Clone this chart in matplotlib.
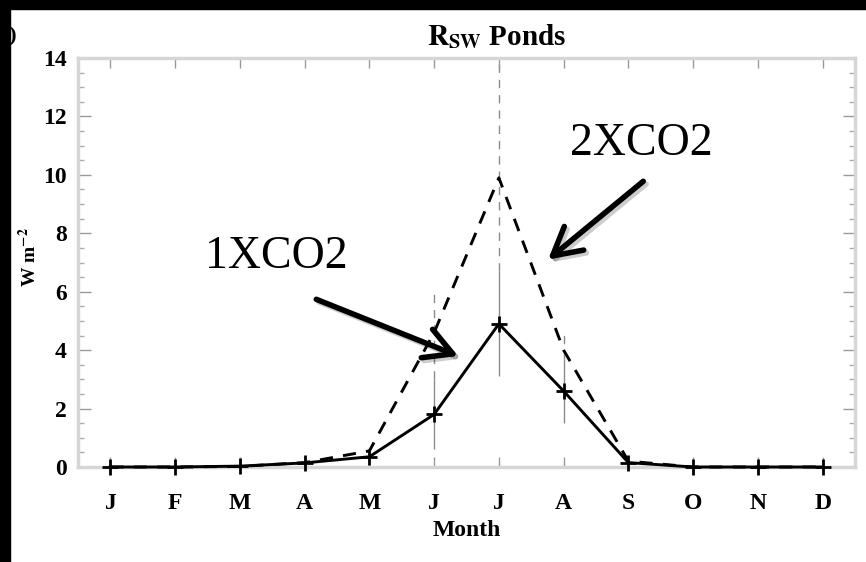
import numpy as np
import matplotlib
matplotlib.use("Agg")
import matplotlib.pyplot as plt
from matplotlib.patches import Rectangle
from matplotlib.ticker import MultipleLocator
import matplotlib.patheffects as pe

plt.rcParams['font.family'] = ['Liberation Serif', 'DejaVu Serif']
plt.rcParams['mathtext.fontset'] = 'stix'

# monthly pond shortwave (W m-2)
months = np.arange(1, 13)
month_labels = ['J', 'F', 'M', 'A', 'M', 'J', 'J', 'A', 'S', 'O', 'N', 'D']
rsw_1x = [0.0, 0.0, 0.03, 0.14, 0.35, 1.8, 4.9, 2.6, 0.15, 0.0, 0.0, 0.0]
rsw_2x = [0.0, 0.0, 0.02, 0.15, 0.55, 4.6, 9.9, 4.0, 0.2, 0.0, 0.0, 0.0]

# spread bars (June, July, August)
spread_months = [6, 7, 8]
spread_1x_lo = [0.6, 3.1, 1.5]
spread_1x_hi = [3.0, 6.7, 3.7]
spread_2x_lo = [3.0, 6.7, 3.7]
spread_2x_hi = [6.0, 14.5, 4.7]

fig = plt.figure(figsize=(8.66, 5.62), dpi=100)
ax = fig.add_axes([78/866, 1 - 467/562, 777/866, 409/562])

ax.vlines(spread_months, spread_1x_lo, spread_1x_hi, color='#8a8a8a', lw=1.0, zorder=1)
ax.vlines(spread_months, spread_2x_lo, spread_2x_hi, color='#8a8a8a', lw=1.0,
          linestyles=(0, (6, 5)), zorder=1)

ax.plot(months, rsw_2x, color='black', lw=2.1, dashes=(4.5, 3.5), zorder=3, clip_on=False)
ax.plot(months, rsw_1x, color='black', lw=2.1, marker='+', ms=11, mew=2, zorder=4,
        clip_on=False)

ax.set_xlim(0.5, 12.5)
ax.set_ylim(0, 14)
ax.set_xticks(months)
ax.set_xticklabels(month_labels, fontweight='bold', fontsize=17)
ax.yaxis.set_major_locator(MultipleLocator(2))
ax.yaxis.set_minor_locator(MultipleLocator(0.5))
for lab in ax.get_yticklabels():
    lab.set_fontweight('bold')
    lab.set_fontsize(17)

ax.tick_params(axis='x', which='major', direction='in', top=True, length=7,
               width=1, color='#999999', pad=19)
ax.tick_params(axis='y', which='major', direction='in', right=True, length=9,
               width=1, color='#999999', pad=8)
ax.tick_params(axis='y', which='minor', direction='in', right=True, length=4,
               width=1, color='#aaaaaa')
for s in ax.spines.values():
    s.set_color('#d6d6d6')
    s.set_linewidth(2.5)

ax.set_xlabel('Month', fontweight='bold', fontsize=17)
ax.xaxis.set_label_coords(0.5, -0.13)
fig.text(29/866, 1 - 257/562, r'W m$^{\mathbf{-2}}$', fontweight='bold', fontsize=14,
         rotation=90, ha='center', va='center')

fig.text(497/866, 1 - 37/562, r'$\mathbf{R}_{\mathbf{SW}}$ Ponds', fontweight='bold',
         fontsize=21, ha='center', va='center')
fig.text(17/866, 1 - 36/562, 'a)', fontweight='bold', fontsize=16, ha='right', va='center')

# callouts
ax.text(3.56, 7.2, '1XCO2', fontsize=33, ha='center', va='center')
ax.text(9.2, 11.05, '2XCO2', fontsize=33, ha='center', va='center')
arrow_kw = dict(arrowstyle='->,head_length=1.0,head_width=0.55', lw=4, color='black',
                mutation_scale=20, shrinkA=0, shrinkB=0)
a1 = ax.annotate('', xy=(6.37, 3.8), xytext=(4.18, 5.74), arrowprops=arrow_kw)
a2 = ax.annotate('', xy=(7.76, 7.1), xytext=(9.23, 9.78), arrowprops=arrow_kw)
for a in (a1, a2):
    a.arrow_patch.set_path_effects([pe.SimpleLineShadow(offset=(2, -2), alpha=0.2,
                                                        shadow_color='black'),
                                    pe.Normal()])

# black frame strips along top and left edge
fig.add_artist(Rectangle((0, 1 - 9/562), 1, 9/562, transform=fig.transFigure,
                         color='black', zorder=20))
fig.add_artist(Rectangle((0, 0), 10/866, 1, transform=fig.transFigure,
                         color='black', zorder=20))

fig.savefig('out.png', dpi=100)
